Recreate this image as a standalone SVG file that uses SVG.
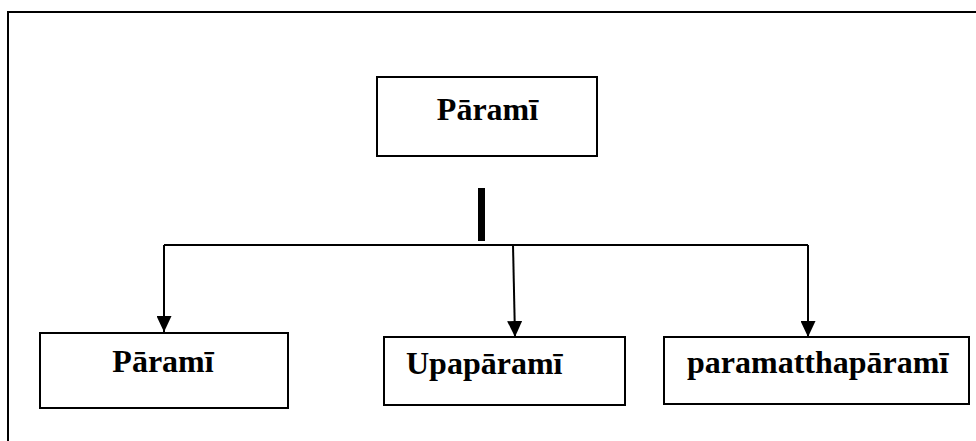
<svg xmlns="http://www.w3.org/2000/svg" width="976" height="441" viewBox="0 0 976 441">
<defs>
<style>
.box{fill:#fff;stroke:#000;stroke-width:2}
.lbl{font-family:"Liberation Serif","Times New Roman",serif;font-weight:bold;font-size:32px;fill:#000}
.ln{fill:none;stroke:#000;stroke-width:2}
</style>
<marker id="arr" markerWidth="16" markerHeight="15" refX="16" refY="7.5" orient="auto" markerUnits="userSpaceOnUse">
<path d="M0,0 L16,7.5 L0,15 Z" fill="#000"/>
</marker>
</defs>
<rect width="976" height="441" fill="#fff"/>
<path class="ln" d="M8,441 V12 H976"/>
<g id="connectors">
<rect x="478" y="188" width="7" height="53" fill="#000"/>
<path class="ln" d="M164,245 H808"/>
<path class="ln" d="M164,245 V332" marker-end="url(#arr)"/>
<path class="ln" d="M513,245 L515,337" marker-end="url(#arr)"/>
<path class="ln" d="M808,245 V337" marker-end="url(#arr)"/>
</g>
<g id="root">
<rect class="box" x="377" y="77" width="220" height="79"/>
<text class="lbl" x="487.5" y="120" text-anchor="middle">Pāramī</text>
</g>
<g id="parami">
<rect class="box" x="40" y="333" width="248" height="75"/>
<text class="lbl" x="163" y="372" text-anchor="middle">Pāramī</text>
</g>
<g id="upaparami">
<rect class="box" x="384" y="337" width="241" height="68"/>
<text class="lbl" x="406" y="374">Upapāramī</text>
</g>
<g id="paramatthaparami">
<rect class="box" x="664" y="337" width="305" height="67"/>
<text class="lbl" x="687" y="373">paramatthapāramī</text>
</g>
</svg>
